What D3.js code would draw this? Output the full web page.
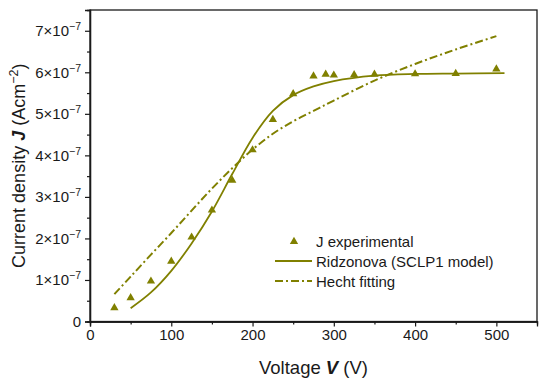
<!DOCTYPE html>
<html>
<head>
<meta charset="utf-8">
<script src="https://cdn.jsdelivr.net/npm/d3@7"></script>
<style>
  body { margin: 0; background: #fff; }
  text { font-family: "Liberation Sans", Arial, sans-serif; fill: #1a1a1a; }
</style>
</head>
<body>
<svg id="chart"></svg>
<script>
// Data (J in units of 1e-7 A/cm^2)
const expV = [30, 50, 75, 100, 125, 150, 175, 200, 225, 250, 275, 290, 300, 325, 350, 400, 450, 500];
const expJ = [0.33, 0.57, 0.97, 1.45, 2.03, 2.68, 3.40, 4.13, 4.86, 5.48, 5.91, 5.95, 5.93, 5.94, 5.95, 5.96, 5.97, 6.08];

const ridzV = [50, 75, 100, 125, 150, 175, 200, 225, 250, 275, 300, 350, 400, 450, 510];
const ridzJ = [0.32, 0.70, 1.22, 1.88, 2.65, 3.55, 4.42, 5.07, 5.45, 5.66, 5.79, 5.92, 5.96, 5.97, 5.98];

const hechtV = [30, 50, 75, 100, 125, 150, 175, 200, 225, 250, 275, 300, 350, 400, 450, 500];
const hechtJ = [0.66, 1.08, 1.61, 2.13, 2.67, 3.20, 3.69, 4.14, 4.52, 4.82, 5.07, 5.32, 5.80, 6.20, 6.55, 6.87];

const xTicks = [0, 100, 200, 300, 400, 500];
const yTicks = [0, 1, 2, 3, 4, 5, 6, 7];
const legendLabels = ["J experimental", "Ridzonova (SCLP1 model)", "Hecht fitting"];

const color = "#808000";

// Chart Dimensions
const width = 550, height = 384;
const margin = { top: 10, right: 13, bottom: 62.5, left: 90 };

const svg = d3.select("#chart").attr("width", width).attr("height", height);

// Scales
const xScale = d3.scaleLinear().domain([0, 550]).range([margin.left, width - margin.right]);
const yScale = d3.scaleLinear().domain([0, 7.5]).range([height - margin.bottom, margin.top]);

// Frame
svg.append("rect")
  .attr("x", margin.left).attr("y", margin.top)
  .attr("width", width - margin.right - margin.left)
  .attr("height", height - margin.bottom - margin.top)
  .attr("fill", "none").attr("stroke", "#1a1a1a").attr("stroke-width", 1.3);

// Axes
const xAxis = d3.axisBottom(xScale).tickValues(xTicks).tickSize(5).tickPadding(3);
const xMinor = d3.axisBottom(xScale).tickValues(d3.range(50, 550, 100)).tickSize(3).tickFormat("");
const yAxis = d3.axisLeft(yScale).tickValues(yTicks).tickSize(5).tickFormat("");
const yMinor = d3.axisLeft(yScale).tickValues(d3.range(0.5, 7.5, 1)).tickSize(3).tickFormat("");

function styleAxis(g) {
  g.select(".domain").attr("stroke", "#1a1a1a").attr("stroke-width", 1.3);
  g.selectAll(".tick line").attr("stroke", "#1a1a1a").attr("stroke-width", 1.2);
  g.selectAll(".tick text").attr("font-size", 15).attr("fill", "#1a1a1a")
    .style("font-family", "'Liberation Sans', Arial, sans-serif");
}

svg.append("g").attr("transform", `translate(0,${height - margin.bottom})`).call(xAxis).call(styleAxis);
svg.append("g").attr("transform", `translate(0,${height - margin.bottom})`).call(xMinor).call(styleAxis);
svg.append("g").attr("transform", `translate(${margin.left},0)`).call(yAxis).call(styleAxis);
svg.append("g").attr("transform", `translate(${margin.left},0)`).call(yMinor).call(styleAxis);

// Y tick labels with superscripts
const yLabels = svg.append("g").selectAll("text").data(yTicks).enter().append("text")
  .attr("x", margin.left - 9)
  .attr("y", (d) => yScale(d) + 5.5)
  .attr("text-anchor", "end")
  .attr("font-size", 15);
yLabels.each(function (d) {
  const t = d3.select(this);
  if (d === 0) { t.text("0"); return; }
  t.append("tspan").text(d + "×10");
  t.append("tspan").attr("font-size", 10.5).attr("dy", -6).text("−7");
});

// Axis titles
const xt = svg.append("text").attr("x", (margin.left + width - margin.right) / 2).attr("y", 374)
  .attr("text-anchor", "middle").attr("font-size", 18.5);
xt.append("tspan").text("Voltage ");
xt.append("tspan").attr("font-weight", "bold").attr("font-style", "italic").text("V");
xt.append("tspan").text(" (V)");

const yt = svg.append("text")
  .attr("transform", `translate(25,${(margin.top + height - margin.bottom) / 2}) rotate(-90)`)
  .attr("text-anchor", "middle").attr("font-size", 18);
yt.append("tspan").text("Current density ");
yt.append("tspan").attr("font-weight", "bold").attr("font-style", "italic").text("J");
yt.append("tspan").text(" (Acm");
yt.append("tspan").attr("font-size", 12.5).attr("dy", -7).text("−2");
yt.append("tspan").attr("dy", 7).text(")");

// Lines
const line = d3.line().x((d) => xScale(d[0])).y((d) => yScale(d[1])).curve(d3.curveCatmullRom.alpha(0.5));

svg.append("path")
  .datum(d3.zip(hechtV, hechtJ))
  .attr("d", line)
  .attr("fill", "none").attr("stroke", color).attr("stroke-width", 2)
  .attr("stroke-dasharray", "8,3,2,3");

svg.append("path")
  .datum(d3.zip(ridzV, ridzJ))
  .attr("d", line)
  .attr("fill", "none").attr("stroke", color).attr("stroke-width", 1.8);

// Points
const tri = d3.symbol(d3.symbolTriangle, 30);
svg.append("g").selectAll("path").data(d3.zip(expV, expJ)).enter().append("path")
  .attr("d", tri)
  .attr("transform", (d) => `translate(${xScale(d[0])},${yScale(d[1])})`)
  .attr("fill", color);

// Legend
const lg = svg.append("g");
const rows = [241.5, 261, 281];
lg.append("path").attr("d", tri).attr("transform", `translate(294,${rows[0]})`).attr("fill", color);
lg.append("line").attr("x1", 275).attr("x2", 312).attr("y1", rows[1]).attr("y2", rows[1])
  .attr("stroke", color).attr("stroke-width", 1.8);
lg.append("line").attr("x1", 275).attr("x2", 312).attr("y1", rows[2]).attr("y2", rows[2])
  .attr("stroke", color).attr("stroke-width", 2).attr("stroke-dasharray", "8,3,2,3");
lg.selectAll("text").data(legendLabels).enter().append("text")
  .attr("x", 316).attr("y", (d, i) => rows[i] + 5.5)
  .attr("font-size", 15).text((d) => d);
</script>
</body>
</html>
